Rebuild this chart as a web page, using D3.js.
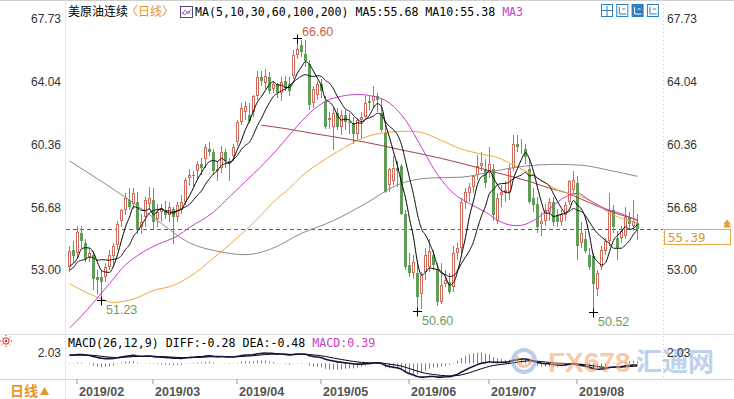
<!DOCTYPE html>
<html>
<head>
<meta charset="utf-8">
<script src="https://cdn.jsdelivr.net/npm/d3@7"></script>
<style>
  body { margin: 0; background: #fff; }
  svg { display: block; font-family: Arial, "Liberation Sans", sans-serif; }
</style>
</head>
<body>
<svg id="chart" width="734" height="399"></svg>
<script>
// trading days on screen, per month
const tradingDays = [
  ['2019/01', [30, 31]],
  ['2019/02', [1, 4, 5, 6, 7, 8, 11, 12, 13, 14, 15, 19, 20, 21, 22, 25, 26, 27, 28]],
  ['2019/03', [1, 4, 5, 6, 7, 8, 11, 12, 13, 14, 15, 18, 19, 20, 21, 22, 25, 26, 27, 28, 29]],
  ['2019/04', [1, 2, 3, 4, 5, 8, 9, 10, 11, 12, 15, 16, 17, 18, 22, 23, 24, 25, 26, 29, 30]],
  ['2019/05', [1, 2, 3, 6, 7, 8, 9, 10, 13, 14, 15, 16, 17, 20, 21, 22, 23, 24, 28, 29, 30, 31]],
  ['2019/06', [3, 4, 5, 6, 7, 10, 11, 12, 13, 14, 17, 18, 19, 20, 21, 24, 25, 26, 27, 28]],
  ['2019/07', [1, 2, 3, 5, 8, 9, 10, 11, 12, 15, 16, 17, 18, 19, 22, 23, 24, 25, 26, 29, 30, 31]],
  ['2019/08', [1, 2, 5, 6, 7, 8, 9, 12, 13, 14, 15, 16, 19, 20, 21, 22]],
];
const dates = tradingDays.flatMap(([m, days]) =>
  days.map((d) => m + '/' + String(d).padStart(2, '0'))
);

// daily candles
const open = [
  53.20, 54.20, 54.00, 55.20, 54.60, 53.70, 53.90, 52.60, 52.60, 52.60,
  53.20, 53.80, 54.45, 55.90, 56.50, 57.10, 56.90, 57.00, 55.50, 56.10,
  56.90, 57.10, 56.00, 56.40, 56.50, 56.20, 56.60, 56.10, 56.50, 57.00,
  58.40, 58.60, 58.80, 59.20, 59.50, 60.10, 59.90, 58.80, 59.00, 59.90,
  59.40, 59.70, 60.50, 61.70, 62.30, 62.10, 62.30, 63.20, 64.30, 64.00,
  64.30, 63.60, 63.90, 63.40, 64.10, 63.90, 64.40, 65.60, 66.20, 65.70,
  65.10, 62.80, 63.30, 63.90, 62.90, 61.80, 61.40, 62.20, 61.40, 62.10,
  61.70, 61.60, 61.00, 61.80, 62.00, 62.90, 62.90, 63.20, 62.20, 61.10,
  58.00, 58.20, 59.00, 59.10, 56.30, 53.30, 52.80, 52.80, 51.60, 52.90,
  53.20, 53.90, 53.00, 51.10, 52.20, 52.30, 52.00, 54.00, 54.30, 57.00,
  57.50, 57.90, 58.60, 59.10, 58.90, 58.70, 58.90, 55.90, 57.40, 57.50,
  57.60, 59.00, 60.40, 60.20, 60.10, 58.90, 57.20, 56.90, 55.70, 55.90,
  56.40, 57.00, 56.20, 55.80, 56.20, 57.00, 57.70, 58.10, 54.60, 54.80,
  53.90, 53.80, 51.90, 53.20, 54.10, 54.70, 56.50, 54.90, 54.90, 55.00,
  56.10, 55.60, 55.74,
];
const high = [
  54.40, 54.70, 55.60, 55.60, 54.80, 54.30, 54.10, 53.00, 53.00, 53.40,
  54.20, 54.60, 55.90, 56.60, 57.50, 57.80, 57.80, 57.60, 56.30, 57.30,
  57.88, 57.80, 56.90, 56.90, 57.05, 57.00, 56.70, 57.00, 57.40, 58.40,
  58.95, 58.80, 59.40, 59.60, 60.40, 60.50, 60.10, 59.40, 60.30, 60.11,
  59.60, 60.40, 61.80, 62.80, 62.90, 62.80, 63.30, 64.70, 64.70, 64.79,
  64.60, 64.10, 64.00, 64.30, 64.40, 64.30, 65.90, 66.60, 66.50, 66.48,
  65.30, 63.80, 64.10, 64.20, 63.20, 62.30, 62.50, 62.50, 62.40, 62.40,
  62.20, 62.00, 61.90, 62.30, 63.20, 63.20, 63.80, 63.40, 63.10, 61.50,
  59.00, 59.70, 59.40, 59.20, 56.50, 54.00, 53.90, 53.60, 52.90, 54.30,
  54.80, 54.20, 53.40, 53.40, 53.00, 52.80, 54.40, 54.60, 57.20, 57.80,
  58.10, 58.60, 59.76, 59.90, 59.50, 60.24, 59.20, 57.50, 58.00, 58.20,
  59.20, 60.90, 60.94, 60.70, 60.40, 59.60, 57.80, 57.30, 56.40, 56.90,
  57.20, 57.30, 56.60, 56.50, 57.00, 58.30, 58.80, 58.50, 55.80, 55.30,
  54.30, 54.00, 53.00, 54.40, 54.90, 57.50, 56.80, 55.30, 55.60, 56.70,
  56.40, 57.10, 56.30,
];
const low = [
  52.90, 53.40, 53.70, 54.30, 53.50, 53.50, 51.80, 51.60, 51.23, 52.30,
  53.00, 53.30, 54.20, 55.50, 56.20, 56.50, 56.60, 55.10, 55.10, 55.50,
  56.50, 55.40, 55.50, 55.80, 55.99, 55.80, 54.52, 55.80, 56.30, 56.80,
  57.95, 57.90, 58.30, 58.60, 59.00, 59.70, 58.60, 58.20, 58.70, 59.00,
  58.20, 59.40, 60.30, 61.50, 61.80, 61.60, 62.00, 63.00, 63.80, 63.60,
  63.33, 63.40, 63.10, 62.90, 63.50, 63.20, 64.20, 65.40, 65.50, 64.90,
  62.40, 62.50, 63.00, 63.10, 61.30, 61.30, 60.05, 61.20, 60.90, 61.20,
  61.00, 60.40, 60.60, 60.70, 61.90, 62.40, 62.50, 62.30, 61.10, 57.50,
  57.60, 58.00, 57.90, 56.20, 53.00, 52.60, 52.50, 50.60, 50.72, 52.40,
  52.90, 53.00, 50.90, 51.00, 52.00, 51.60, 51.70, 53.60, 54.00, 56.60,
  57.00, 57.50, 58.30, 58.80, 57.80, 58.40, 55.90, 55.70, 56.70, 57.00,
  57.10, 58.80, 59.90, 59.80, 59.20, 56.90, 56.40, 55.20, 55.00, 55.60,
  55.90, 55.60, 55.50, 55.60, 55.90, 56.80, 57.50, 53.60, 54.30, 54.00,
  53.00, 50.52, 51.50, 53.00, 53.90, 54.40, 55.20, 53.60, 54.60, 54.80,
  55.40, 55.30, 54.76,
];
const close = [
  54.10, 53.85, 55.25, 54.70, 53.65, 54.00, 52.50, 52.40, 52.30, 53.20,
  53.90, 54.40, 55.70, 56.50, 57.20, 56.70, 57.50, 55.35, 55.80, 57.10,
  57.20, 55.80, 56.40, 56.60, 56.20, 56.70, 56.10, 56.80, 57.00, 58.30,
  58.60, 58.50, 59.20, 59.00, 60.20, 59.95, 58.80, 58.90, 59.90, 59.40,
  59.30, 60.20, 61.70, 62.50, 62.60, 61.75, 63.20, 64.30, 64.10, 64.40,
  63.50, 63.90, 63.40, 64.05, 63.70, 63.50, 65.60, 66.00, 65.80, 65.25,
  62.70, 63.60, 63.90, 63.50, 61.40, 61.90, 62.20, 61.40, 62.10, 61.70,
  61.60, 61.00, 61.80, 62.00, 62.80, 62.80, 63.20, 63.00, 61.20, 57.60,
  58.90, 59.00, 58.80, 56.30, 53.20, 52.80, 53.50, 51.40, 52.70, 53.90,
  54.10, 53.30, 51.10, 52.10, 52.40, 51.70, 54.00, 54.30, 57.00, 57.60,
  57.90, 58.50, 59.10, 59.30, 58.10, 59.20, 56.20, 57.20, 57.60, 57.70,
  58.90, 60.40, 60.20, 60.30, 59.65, 57.00, 56.80, 55.50, 55.90, 56.50,
  57.00, 55.80, 55.80, 56.30, 56.80, 58.20, 58.30, 54.40, 55.20, 54.10,
  53.20, 52.20, 52.80, 54.20, 54.70, 56.50, 55.50, 54.30, 55.30, 56.10,
  55.70, 55.90, 55.39,
];
// January closes before the first candle, only used to warm up MA5/MA10/MACD
const warmupCloses = [
  46.54, 47.09, 47.96, 48.52, 49.78, 52.36, 52.59, 51.59, 50.51, 52.11,
  52.31, 52.07, 53.80, 53.01, 52.62, 53.13, 53.69, 51.99, 53.31,
];

// longer averages as [candle index, value]
const ma30Points = [
  [0, 49.6], [3, 50.3], [6, 51.1], [10, 52.2], [14, 53.3], [18, 54.0], [22, 54.5],
  [27, 55.0], [30, 55.5], [36, 56.4], [40, 57.3], [44, 58.2], [48, 59.1], [52, 60.1],
  [56, 61.2], [60, 62.2], [64, 62.9], [68, 63.2], [72, 63.3], [76, 63.2], [80, 62.8],
  [84, 61.8], [88, 60.2], [92, 58.6], [96, 57.5], [100, 56.9], [104, 56.4], [108, 55.8],
  [112, 55.6], [116, 55.9], [120, 56.6], [124, 57.3], [127, 57.5], [130, 57.1],
  [134, 56.6], [138, 56.3], [142, 55.9],
];
const ma60Points = [
  [0, 52.2], [6, 51.5], [11, 51.1], [16, 51.3], [21, 51.8], [26, 52.1], [30, 52.6],
  [36, 53.7], [42, 54.9], [47, 56.0], [51, 57.0], [55, 57.8], [58, 58.5], [62, 59.2],
  [67, 59.95], [74, 60.8], [80, 61.1], [85, 61.15], [89, 61.0], [93, 60.6], [98, 60.1],
  [103, 59.8], [107, 59.6], [111, 59.15], [115, 58.7], [119, 58.1], [123, 57.6],
  [127, 57.4], [131, 56.95], [135, 56.35], [142, 55.75],
];
const ma100Points = [
  [0, 59.4], [8, 58.2], [15, 57.1], [22, 55.9], [30, 54.6], [37, 54.1], [44, 53.9],
  [50, 54.2], [58, 55.15], [66, 55.9], [74, 56.9], [82, 58.0], [90, 58.4], [98, 58.45],
  [106, 58.8], [114, 59.1], [122, 59.2], [128, 59.15], [135, 58.85], [142, 58.5],
];
const ma200Points = [
  [48, 61.5], [54, 61.3], [60, 61.05], [66, 60.82], [74, 60.5], [83, 60.05], [93, 59.55],
  [99, 59.2], [107, 58.7], [115, 58.2], [120, 57.8], [124, 57.55], [128, 57.15],
  [137, 56.3], [142, 55.95],
];

const priceTicks = [53.0, 56.68, 60.36, 64.04, 67.73];
const macdTicks = [2.03];
const lastPrice = 55.39;
const highMarks = [57];
const lowMarks = [8, 87, 131];
const titleName = '美原油连续';
const titlePeriod = '〈日线〉';
const maLegend = 'MA(5,10,30,60,100,200) MA5:55.68 MA10:55.38 ';
const maLegendCut = 'MA3';
const macdLegend = 'MACD(26,12,9) DIFF:-0.28 DEA:-0.48 ';
const macdLegendHist = 'MACD:0.39';

const RED = '#d06a5a';
const GREEN = '#5f9d58';
const MONO = '"DejaVu Sans Mono", "Liberation Mono", monospace';
const CJK = '"Noto Sans CJK SC", sans-serif';

const svg = d3.select('#chart');

// scales
const x = d3
  .scaleBand()
  .domain(dates)
  .range([67, 67 + 4 * dates.length])
  .paddingInner(0.25)
  .paddingOuter(0.125);
const cx = (i) => Math.round(x(dates[i]) + x.bandwidth() / 2);
const y = d3.scaleLinear().domain([49.48, 68.26]).range([330, 10]);
const yM = d3.scaleLinear().domain([-2.7, 2.03]).range([378, 352.5]);

const defs = svg.append('defs');
defs.append('clipPath').attr('id', 'clipPrice')
  .append('rect').attr('x', 66).attr('y', 8).attr('width', 597).attr('height', 326);
defs.append('clipPath').attr('id', 'clipMacd')
  .append('rect').attr('x', 66).attr('y', 336).attr('width', 597).attr('height', 43);

// frame lines
svg.append('line').attr('x1', 0).attr('x2', 734).attr('y1', 0.5).attr('y2', 0.5).attr('stroke', '#cfcfcf');
svg.append('line').attr('x1', 65.5).attr('x2', 65.5).attr('y1', 0).attr('y2', 399).attr('stroke', '#e6e6e6');
svg.append('line').attr('x1', 0).attr('x2', 734).attr('y1', 334.5).attr('y2', 334.5).attr('stroke', '#e2e2e2');
svg.append('line').attr('x1', 663.5).attr('x2', 663.5).attr('y1', 0).attr('y2', 379)
  .attr('stroke', '#cccccc').attr('stroke-dasharray', '1,3');

// candles
const idx = d3.range(dates.length);
const isUp = (i) => close[i] >= open[i];
const pricePane = svg.append('g').attr('clip-path', 'url(#clipPrice)');

pricePane.append('line')
  .attr('x1', 66).attr('x2', 663)
  .attr('y1', Math.round(y(lastPrice)) + 0.5).attr('y2', Math.round(y(lastPrice)) + 0.5)
  .attr('stroke', '#2c6e8c').attr('stroke-dasharray', '4,3');

pricePane.append('g').selectAll('line')
  .data(idx)
  .join('line')
  .attr('x1', (i) => cx(i) + 0.5)
  .attr('x2', (i) => cx(i) + 0.5)
  .attr('y1', (i) => Math.round(y(high[i])))
  .attr('y2', (i) => Math.round(y(low[i])))
  .attr('stroke', (i) => (isUp(i) ? RED : GREEN));

pricePane.append('g').selectAll('rect')
  .data(idx)
  .join('rect')
  .attr('x', (i) => (isUp(i) ? cx(i) - 0.5 : cx(i) - 1))
  .attr('width', (i) => (isUp(i) ? 2 : 3))
  .attr('y', (i) => {
    const top = Math.round(y(Math.max(open[i], close[i])));
    return isUp(i) ? top + 0.5 : top;
  })
  .attr('height', (i) => {
    const h = Math.round(y(Math.min(open[i], close[i]))) - Math.round(y(Math.max(open[i], close[i])));
    return isUp(i) ? Math.max(0, h - 1) : Math.max(1, h);
  })
  .attr('fill', (i) => (isUp(i) ? '#fff' : GREEN))
  .attr('stroke', (i) => (isUp(i) ? RED : 'none'));

// moving averages
const allCloses = warmupCloses.concat(close);
const off = warmupCloses.length;
const movingAvg = (n) =>
  idx.map((i) => [i, d3.mean(allCloses.slice(off + i - n + 1, off + i + 1))]);

const maLine = d3.line()
  .x((d) => cx(d[0]) + 0.5)
  .y((d) => y(d[1]))
  .curve(d3.curveMonotoneX);

const maSeries = [
  { pts: ma200Points, color: '#9a4646' },
  { pts: ma100Points, color: '#8a8a8a' },
  { pts: ma60Points, color: '#f0a640' },
  { pts: ma30Points, color: '#c640c6' },
  { pts: movingAvg(10), color: '#111' },
  { pts: movingAvg(5), color: '#000' },
];
pricePane.append('g').selectAll('path')
  .data(maSeries)
  .join('path')
  .attr('d', (d) => maLine(d.pts))
  .attr('fill', 'none')
  .attr('stroke', (d) => d.color)
  .attr('stroke-width', 1);

// high / low marks
const markG = svg.append('g').attr('font-size', 12.5);
const cross = (g, px, py) =>
  g.append('path')
    .attr('d', `M${px - 4},${py}H${px + 5}M${px + 0.5},${py - 4}V${py + 5}`)
    .attr('stroke', '#000');
highMarks.forEach((i) => {
  const px = cx(i), py = Math.round(y(high[i])) + 0.5;
  cross(markG, px, py);
  markG.append('text').attr('x', px + 5).attr('y', py - 3).attr('fill', '#d0604c')
    .text(high[i].toFixed(2));
});
lowMarks.forEach((i) => {
  const px = cx(i), py = Math.round(y(low[i])) + 0.5;
  cross(markG, px, py);
  markG.append('text').attr('x', px + 5).attr('y', py + 13).attr('fill', '#6a9e62')
    .text(low[i].toFixed(2));
});

// price axes
const fmt = d3.format('.2f');
svg.append('g')
  .attr('transform', 'translate(61,0)')
  .call(d3.axisLeft(y).tickValues(priceTicks).tickSize(0).tickPadding(0).tickFormat(fmt))
  .call((g) => g.select('.domain').remove())
  .selectAll('text').attr('font-size', 12).attr('fill', '#333').attr('font-family', 'Arial');
svg.append('g')
  .attr('transform', 'translate(667,0)')
  .call(d3.axisRight(y).tickValues(priceTicks).tickSize(0).tickPadding(0).tickFormat(fmt))
  .call((g) => g.select('.domain').remove())
  .selectAll('text').attr('font-size', 12).attr('fill', '#333').attr('font-family', 'Arial');

// last price box
const lpY = Math.round(y(lastPrice)) + 0.5;
svg.append('rect').attr('x', 664.5).attr('y', lpY).attr('width', 66).attr('height', 15)
  .attr('fill', '#fff').attr('stroke', '#e8a848');
svg.append('text').attr('x', 668).attr('y', lpY + 12.5).attr('font-family', MONO)
  .attr('font-size', 12.5).attr('fill', '#e0962c').text(lastPrice.toFixed(2));
svg.append('path').attr('d', `M723,${lpY - 2}L727,${lpY - 7}L731,${lpY - 2}ZM723,${lpY - 5}L727,${lpY - 10}L731,${lpY - 5}Z`)
  .attr('fill', '#eb9a3a');

// header
svg.append('text').attr('x', 68).attr('y', 16).attr('font-family', CJK).attr('font-size', 12)
  .attr('fill', '#000').text(titleName);
svg.append('text').attr('x', 126).attr('y', 16).attr('font-family', CJK).attr('font-size', 12)
  .attr('fill', '#e6962e').text(titlePeriod);
svg.append('rect').attr('x', 180.5).attr('y', 6.5).attr('width', 12).attr('height', 11)
  .attr('fill', '#fff').attr('stroke', '#4a4a7a');
svg.append('path').attr('d', 'M182,15L185,10L188,14L191,9M182,12L185,15L188,11L191,14')
  .attr('fill', 'none').attr('stroke', '#9a5aa8').attr('stroke-width', 0.8);
const maText = svg.append('text').attr('x', 195).attr('y', 16).attr('font-family', MONO)
  .attr('font-size', 11.6).attr('fill', '#000').attr('xml:space', 'preserve');
maText.append('tspan').text(maLegend);
maText.append('tspan').attr('fill', '#c640c6').text(maLegendCut);

// toolbar icons
d3.range(4).forEach((k) => {
  const ix = 601 + k * 15.3;
  svg.append('rect').attr('x', ix + 0.5).attr('y', 4.5).attr('width', 11).attr('height', 12)
    .attr('fill', k === 2 ? '#2f7fbf' : '#fff').attr('stroke', '#2f7fbf');
  svg.append('path')
    .attr('d', k === 0
      ? `M${ix + 6},6V16M${ix + 1},10.5H${ix + 11}`
      : `M${ix + 3},7V14H${ix + 10}M${ix + 6},9H${ix + 9}`)
    .attr('stroke', k === 2 ? '#fff' : '#2f7fbf').attr('fill', 'none');
});

// MACD pane
const diffAll = (() => {
  const ema = (vals, n) => {
    const k = 2 / (n + 1);
    let e = vals[0];
    return vals.map((v, i) => (e = i ? v * k + e * (1 - k) : v));
  };
  const e12 = ema(allCloses, 12), e26 = ema(allCloses, 26);
  const diff = e12.map((v, i) => v - e26[i]);
  const dea = ema(diff, 9);
  return { diff: diff.slice(off), dea: dea.slice(off) };
})();
const macdPane = svg.append('g').attr('clip-path', 'url(#clipMacd)');
macdPane.append('g').selectAll('line')
  .data(idx)
  .join('line')
  .attr('x1', (i) => cx(i) + 0.5)
  .attr('x2', (i) => cx(i) + 0.5)
  .attr('y1', yM(0))
  .attr('y2', (i) => yM(2 * (diffAll.diff[i] - diffAll.dea[i])))
  .attr('stroke', (i) => (diffAll.diff[i] >= diffAll.dea[i] ? '#c8645a' : '#5c9a56'));
const macdLine = (arr) => d3.line().x((d, i) => cx(i) + 0.5).y((d) => yM(d)).curve(d3.curveMonotoneX)(arr);
macdPane.append('path').attr('d', macdLine(diffAll.dea)).attr('fill', 'none').attr('stroke', '#000').attr('stroke-width', 1);
macdPane.append('path').attr('d', macdLine(diffAll.diff)).attr('fill', 'none').attr('stroke', '#14143c').attr('stroke-width', 1.6);

const macdText = svg.append('text').attr('x', 68).attr('y', 347).attr('font-family', MONO)
  .attr('font-size', 11.6).attr('fill', '#000').attr('xml:space', 'preserve');
macdText.append('tspan').text(macdLegend);
macdText.append('tspan').attr('fill', '#c640c6').text(macdLegendHist);

// watermark
const wm = svg.append('g').attr('opacity', 0.6);
wm.append('circle').attr('cx', 524).attr('cy', 361).attr('r', 11).attr('fill', 'none')
  .attr('stroke', '#8fb0de').attr('stroke-width', 4);
wm.append('path').attr('d', 'M518,356A7,7 0 1 0 531,358').attr('fill', 'none')
  .attr('stroke', '#f2a66a').attr('stroke-width', 3);
wm.append('text').attr('x', 548).attr('y', 372).attr('font-size', 28).attr('font-weight', 'bold')
  .attr('fill', '#f5a870').text('FX678');
wm.append('text').attr('x', 636).attr('y', 371).attr('font-family', CJK).attr('font-size', 26)
  .attr('font-weight', 'bold').attr('fill', '#93b4e4').text('汇通网');

svg.append('g')
  .attr('transform', 'translate(61,0)')
  .call(d3.axisLeft(yM).tickValues(macdTicks).tickSize(0).tickPadding(0).tickFormat(fmt))
  .call((g) => g.select('.domain').remove())
  .selectAll('text').attr('font-size', 12).attr('fill', '#333').attr('font-family', 'Arial');
svg.append('g')
  .attr('transform', 'translate(667,0)')
  .call(d3.axisRight(yM).tickValues(macdTicks).tickSize(0).tickPadding(0).tickFormat(fmt))
  .call((g) => g.select('.domain').remove())
  .selectAll('text').attr('font-size', 12).attr('fill', '#333').attr('font-family', 'Arial');

// time axis
const monthStarts = dates.filter((d, i) => i > 0 && d.slice(0, 7) !== dates[i - 1].slice(0, 7));
svg.append('g')
  .attr('transform', 'translate(0,379)')
  .call(d3.axisBottom(x).tickValues(monthStarts).tickSize(5).tickPadding(3)
    .tickFormat((d) => d.slice(0, 7)))
  .call((g) => g.select('.domain').attr('d', 'M0,0.5H734').attr('stroke', '#d6d6d6'))
  .call((g) => g.selectAll('.tick line').attr('stroke', '#999'))
  .selectAll('text')
  .attr('text-anchor', 'start').attr('x', 2)
  .attr('font-size', 12.5).attr('font-weight', 'bold').attr('fill', '#555').attr('font-family', 'Arial');

// lower-left corner
svg.append('text').attr('x', 10).attr('y', 396).attr('font-family', CJK).attr('font-size', 14)
  .attr('font-weight', 'bold').attr('fill', '#e6962e').text('日线');
svg.append('path').attr('d', 'M40,395L44.5,387L49,395Z').attr('fill', '#e6962e');
svg.append('circle').attr('cx', 6).attr('cy', 341).attr('r', 3.2).attr('fill', 'none').attr('stroke', '#d22');
svg.append('circle').attr('cx', 6).attr('cy', 341).attr('r', 1.2).attr('fill', '#d22');
svg.append('path').attr('d', 'M1,341H0M11,341H12M6,336V335M6,346V347M2.5,337.5L1.8,336.8M9.5,337.5L10.2,336.8M2.5,344.5L1.8,345.2M9.5,344.5L10.2,345.2')
  .attr('stroke', '#d22');
</script>
</body>
</html>
